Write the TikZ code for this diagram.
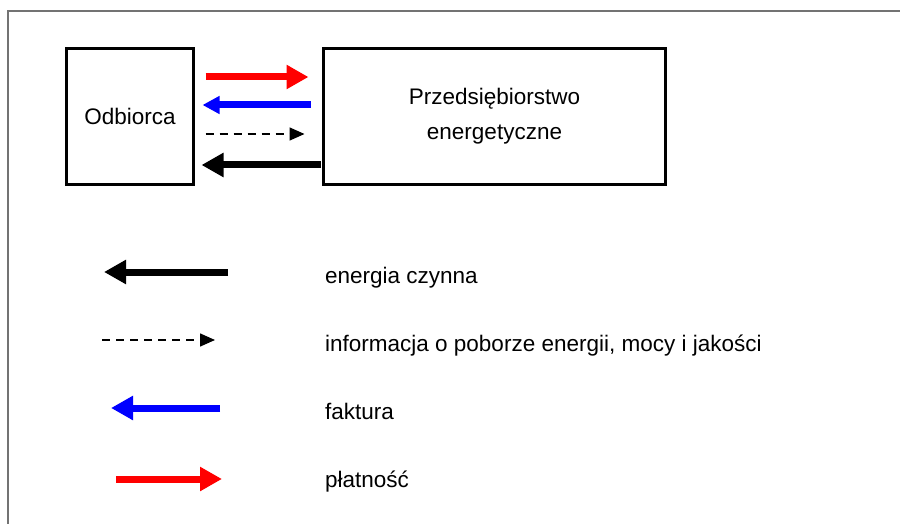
\documentclass[tikz,border=0pt]{standalone}
\usepackage{fontspec}
\setmainfont{Liberation Sans}
\usepackage{tikz}
\usetikzlibrary{arrows.meta}
\definecolor{pure red}{rgb}{1, 0, 0}
\definecolor{pure blue}{rgb}{0, 0, 1}
\definecolor{frame gray}{rgb}{0.45, 0.45, 0.45}

\tikzset{
	box/.style = {draw, line width=3pt, inner sep=0pt, align=center,
		font=\fontsize{22.5}{35}\selectfont},
	legend text/.style = {anchor=base west, inner sep=0pt,
		font=\fontsize{22.5}{27}\selectfont},
	flow/.style = {line width=7pt, -{Triangle[length=22pt, width=23pt]}},
	info/.style = {line width=1.5pt, dash pattern=on 8pt off 6pt,
		-{Triangle[length=15pt, width=13pt]}}
}

\begin{document}
\begin{tikzpicture}[x=1pt, y=-1pt]
			\useasboundingbox (0, 0) rectangle (900, 524);
			% outline
			\draw[frame gray, line width=2pt] (8, 524) -- (8, 11) -- (900, 11);
			% the two parties
			\node[box, minimum width=127pt, minimum height=136pt] (odb) at (130, 116.5) {Odbiorca};
			\node[box, minimum width=342pt, minimum height=136pt] (ent) at (494.5, 116.5)
				{Przedsiębiorstwo\\energetyczne};
			% flows between them
			\draw[flow, pure red] ([shift={(10.5, -39.5)}]odb.east) -- ([shift={(-13.5, -39.5)}]ent.west);
			\draw[flow, pure blue, -{Triangle[length=17pt, width=17pt]}]
				([shift={(-11.5, -11.5)}]ent.west) -- ([shift={(7.5, -11.5)}]odb.east);
			\draw[info] ([shift={(10.5, 17.5)}]odb.east) -- ([shift={(-17.5, 17.5)}]ent.west);
			\draw[flow] ([shift={(-1.5, 48.5)}]ent.west) -- ([shift={(6.5, 48.5)}]odb.east);
			% legend
			\node[legend text] (active) at (325, 283) {energia czynna};
			\node[legend text] (meter) at (325, 351.5) {informacja o poborze energii, mocy i jakości};
			\node[legend text] (invoice) at (325, 419) {faktura};
			\node[legend text] (payment) at (325, 487) {płatność};
			\coordinate (active a) at (228, 272);
			\coordinate (meter a) at (102, 340);
			\coordinate (invoice a) at (220, 408);
			\coordinate (payment a) at (116, 479);
			\draw[flow] (active a) -- +(-124, 0);
			\draw[info] (meter a) -- +(113, 0);
			\draw[flow, pure blue] (invoice a) -- +(-109, 0);
			\draw[flow, pure red] (payment a) -- +(106, 0);
		\end{tikzpicture}
\end{document}
